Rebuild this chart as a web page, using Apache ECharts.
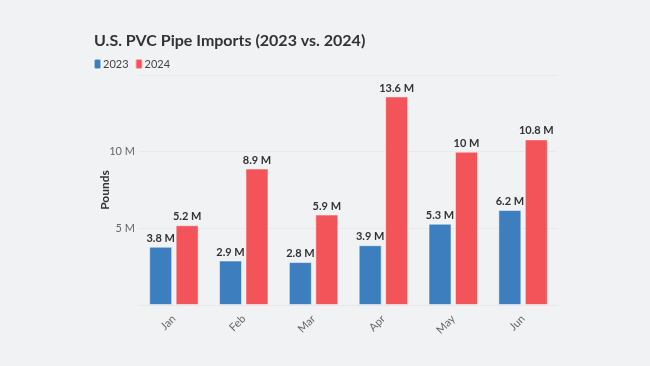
<!DOCTYPE html>
<html><head><meta charset="utf-8">
<script src="https://cdn.jsdelivr.net/npm/echarts@6/dist/echarts.min.js"></script>
<style>html,body{margin:0;padding:0;background:#f1f2f4}#c{width:650px;height:366px}</style>
</head><body><div id="c"></div>
<script>
const categories = ['Jan','Feb','Mar','Apr','May','Jun'];
const values2023 = [3.8, 2.9, 2.8, 3.9, 5.3, 6.2];
const values2024 = [5.2, 8.9, 5.9, 13.6, 10, 10.8];
const seriesNames = ['2023','2024'];
const FONT = 'Lato';
const chart = echarts.init(document.getElementById('c'));
const lbl = {show:true, position:'top', distance:3, fontFamily:FONT, fontWeight:'bold', fontSize:11, color:'#333', formatter: p => p.value + ' M'};
chart.setOption({
  backgroundColor:'#f1f2f4',
  textStyle:{fontFamily:FONT},
  title:{text:'U.S. PVC Pipe Imports (2023 vs. 2024)', left:89, top:28, textStyle:{fontFamily:FONT, fontWeight:'bold', fontSize:16, color:'#333'}},
  legend:{left:88, top:53, itemWidth:7, itemHeight:10, itemGap:6, icon:'roundRect', textStyle:{fontFamily:FONT, fontSize:11, color:'#444', padding:[0,0,0,-3]}, data:seriesNames},
  grid:{left:139, right:92, top:75, bottom:61},
  xAxis:{type:'category', data:categories, axisTick:{show:false}, axisLine:{lineStyle:{color:'#e6e7ea'}}, axisLabel:{rotate:45, color:'#666', fontSize:11, fontFamily:FONT, margin:12}},
  yAxis:{type:'value', min:0, max:15, interval:5, name:'Pounds', nameLocation:'middle', nameGap:28, nameMoveOverlap:false, nameTextStyle:{fontFamily:FONT, fontWeight:'bold', fontSize:12, color:'#333'},
    axisLabel:{color:'#666', fontSize:11, fontFamily:FONT, margin:4, formatter: v => (v===0||v===15) ? '' : v + ' M'},
    splitLine:{lineStyle:{color:'#e8e9ec'}}, axisLine:{show:false}, axisTick:{show:false}},
  series:[
    {name:seriesNames[0], type:'bar', data:values2023, barWidth:23, barGap:'15%', itemStyle:{color:'#3d7ebf', borderColor:'rgba(255,255,255,0.5)', borderWidth:1}, label:lbl},
    {name:seriesNames[1], type:'bar', data:values2024, barWidth:23, itemStyle:{color:'#f25459', borderColor:'rgba(255,255,255,0.5)', borderWidth:1}, label:lbl}
  ]
});
</script></body></html>
